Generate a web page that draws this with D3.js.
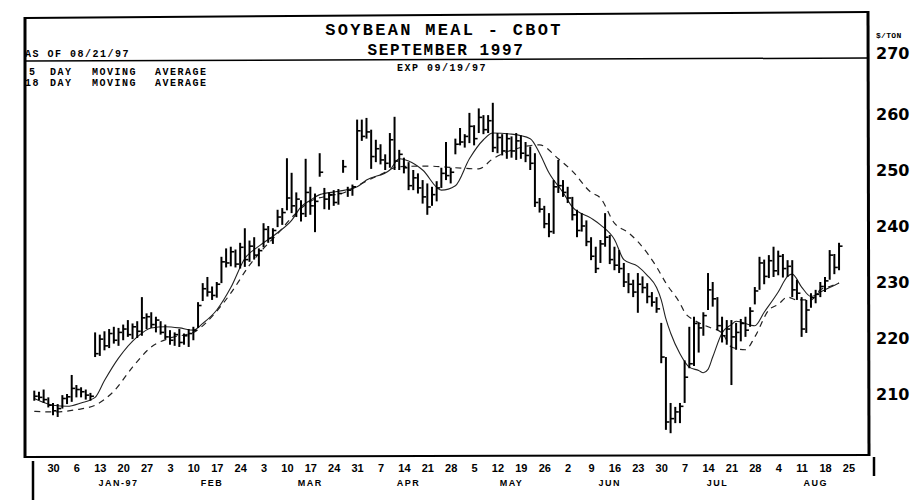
<!DOCTYPE html>
<html>
<head>
<meta charset="utf-8">
<script src="https://cdn.jsdelivr.net/npm/d3@7"></script>
<style>
  body { margin: 0; background: #fff; }
  svg { display: block; }
  .small { font-family: "Liberation Mono", monospace; font-weight: bold; font-size: 10px; letter-spacing: 1.5px; }
</style>
</head>
<body>
<svg width="914" height="503"></svg>
<script>
// daily high / low / close, Dec 24 1996 .. Aug 21 1997 (one row per week)
var firstDay = -4;
var highs = [
  210.6, 210.4, 210.8, 209.4,
  208.4, 208.2, 209.8, 210.0, 213.4,
  211.6, 211.2, 210.8, 210.2, 221.0,
  220.6, 221.2, 221.6, 222.0, 221.8,
  222.4, 223.2, 222.6, 223.0, 227.3,
  224.4, 224.6, 223.8, 223.0, 222.4,
  221.4, 221.0, 221.6, 220.8, 221.6,
  222.0, 226.4, 229.8, 230.9, 229.2,
  230.0, 234.5, 236.0, 236.3, 235.8,
  237.0, 239.6, 237.4, 238.0, 236.0,
  240.5, 240.0, 239.6, 242.9, 243.2,
  252.1, 249.5, 246.0, 244.6, 252.0,
  247.0, 245.8, 253.0, 246.8, 246.0,
  246.4, 246.6, 251.8, 247.0, 247.4,
  259.0, 259.0, 259.3, 257.2, 255.4,
  254.6, 252.8, 256.6, 259.5, 253.6,
  252.2, 251.4, 250.0, 249.4, 248.2,
  247.6, 247.0, 248.0, 250.4, 255.0,
  250.4, 255.6, 257.5, 256.4, 260.2,
  258.0, 261.0, 259.8, 259.8, 262.0,
  256.6, 256.4, 256.6, 256.0, 256.6,
  256.2, 255.0, 254.2, 253.0, 245.0,
  243.6, 242.3, 248.2, 251.8, 248.2,
  247.0, 245.2, 242.9, 242.3, 241.0,
  238.0, 236.3, 237.5, 242.3, 238.4,
  236.3, 235.7, 233.4, 231.6, 230.4,
  231.6, 231.0, 229.8, 228.2, 227.3,
  222.7, 216.6, 208.4, 207.7, 208.4,
  216.0, 222.0, 223.8, 222.7, 224.6,
  231.6, 230.0, 227.3, 223.8, 223.2,
  223.2, 222.7, 223.4, 223.8, 225.5,
  229.1, 234.5, 234.0, 234.8, 236.3,
  235.6, 235.0, 233.9, 233.9, 230.4,
  227.3, 226.8, 228.0, 228.6, 230.0,
  230.9, 235.7, 235.0, 237.0
];
var lows = [
  208.8, 208.9, 208.4, 207.6,
  206.2, 205.9, 207.4, 208.2, 208.6,
  209.4, 209.4, 209.0, 208.8, 216.6,
  216.8, 217.8, 218.2, 219.0, 218.6,
  219.6, 220.2, 219.8, 220.0, 220.4,
  221.6, 221.8, 221.0, 220.6, 219.8,
  218.8, 218.6, 218.4, 218.8, 218.4,
  219.6, 221.8, 226.6, 227.4, 226.8,
  227.2, 229.8, 232.6, 232.8, 232.6,
  232.4, 232.7, 233.6, 234.0, 232.8,
  236.2, 237.0, 236.8, 239.8, 240.2,
  242.8, 242.3, 241.6, 240.8, 241.6,
  242.0, 238.9, 248.8, 243.0, 242.9,
  243.6, 243.8, 249.5, 245.2, 245.4,
  248.2, 255.2, 255.6, 250.2, 251.4,
  251.0, 250.0, 250.4, 250.0, 250.0,
  249.4, 246.4, 246.4, 245.8, 244.0,
  242.0, 243.6, 244.4, 246.8, 248.2,
  247.6, 252.8, 254.4, 254.0, 254.8,
  254.4, 256.6, 256.4, 256.6, 253.2,
  253.0, 252.6, 252.0, 252.2, 251.8,
  252.0, 251.4, 250.0, 243.4, 242.4,
  239.6, 238.0, 238.6, 245.9, 245.2,
  244.1, 241.0, 238.0, 239.0, 236.4,
  233.9, 231.6, 233.4, 236.3, 233.2,
  232.1, 231.6, 229.1, 228.0, 227.3,
  224.5, 228.0, 226.2, 225.6, 224.5,
  215.5, 203.6, 203.0, 204.8, 204.8,
  208.4, 214.6, 215.0, 217.4, 220.4,
  225.0, 225.6, 221.4, 219.2, 218.8,
  211.6, 217.9, 219.4, 220.2, 222.0,
  226.0, 228.6, 229.6, 230.7, 230.9,
  231.2, 230.8, 230.9, 227.3, 226.8,
  220.2, 220.9, 225.4, 226.2, 227.3,
  228.2, 230.4, 231.4, 232.1
];
var closes = [
  209.6, 209.4, 209.0, 208.0,
  207.0, 207.4, 209.2, 209.5, 211.0,
  210.8, 210.4, 209.8, 209.6, 217.2,
  219.8, 218.6, 220.8, 219.6, 221.0,
  221.6, 220.6, 222.0, 221.2, 223.6,
  223.8, 222.4, 223.2, 221.0, 220.2,
  219.6, 220.6, 219.2, 220.4, 220.8,
  221.4, 225.8, 228.8, 228.2, 227.6,
  229.6, 233.6, 233.4, 235.4, 233.2,
  236.2, 234.0, 236.4, 234.8, 235.6,
  239.4, 237.8, 239.2, 241.6, 242.4,
  245.0, 243.6, 244.8, 242.2, 246.0,
  243.6, 244.4, 249.6, 244.8, 245.6,
  244.2, 245.8, 250.6, 246.4, 247.0,
  257.0, 256.0, 256.8, 252.4, 253.8,
  251.8, 251.2, 255.4, 251.6, 252.8,
  250.4, 247.2, 248.6, 246.8, 245.2,
  243.4, 245.6, 246.8, 249.4, 249.0,
  249.6, 254.6, 255.0, 256.0, 257.8,
  255.6, 259.4, 257.2, 258.8, 254.0,
  255.8, 253.4, 255.6, 253.4, 255.2,
  253.0, 252.6, 251.2, 244.2, 243.0,
  240.4, 239.0, 247.0, 247.2, 246.0,
  245.0, 242.0, 239.2, 240.0, 237.2,
  234.6, 232.4, 236.8, 238.0, 234.0,
  233.0, 232.4, 230.0, 229.6, 228.2,
  229.6, 229.0, 227.4, 226.4, 225.2,
  216.6, 205.0, 205.6, 206.8, 207.8,
  213.0, 215.4, 222.6, 221.8, 224.0,
  228.6, 227.0, 222.2, 220.4, 221.6,
  220.2, 221.0, 222.6, 221.4, 224.8,
  228.4, 233.4, 231.0, 233.8, 232.0,
  234.6, 232.4, 232.8, 228.6, 228.0,
  221.6, 225.0, 227.2, 227.8, 229.2,
  230.2, 234.8, 232.6, 236.4
];

// moving average lines as drawn (trading-day index, value)
var fastDays = [-4, 0, 3, 6, 9, 11, 14, 18, 21, 24, 27, 30, 32, 35, 38, 41, 44, 48, 51, 53, 55, 57, 61, 65, 67, 72, 74, 76, 79, 83, 86, 89, 92, 94, 98, 102, 104, 106, 109, 111, 115, 117, 120, 122, 125, 127, 129, 130, 131, 132, 134, 136, 138, 139, 140, 141, 143, 145, 146, 150, 152, 155, 157, 158, 160, 162, 164, 166, 168];
var fastValues = [209.2, 208.0, 207.8, 208.4, 209.4, 212.4, 216.4, 220.2, 221.8, 222.0, 221.8, 221.4, 222.6, 225.0, 229.0, 234.2, 236.4, 238.8, 241.0, 243.4, 244.6, 245.6, 246.2, 247.0, 248.2, 250.0, 252.0, 251.6, 250.0, 246.4, 247.2, 252.0, 255.4, 256.6, 256.4, 255.6, 253.0, 249.5, 246.0, 243.4, 241.4, 240.2, 237.6, 234.0, 232.8, 231.2, 229.0, 226.8, 223.4, 220.9, 217.2, 214.8, 214.2, 213.8, 214.4, 216.6, 220.9, 222.4, 223.0, 222.2, 224.6, 228.2, 231.0, 231.4, 229.1, 227.4, 228.2, 229.0, 229.8];
var slowDays = [-4, 0, 5, 9, 13, 17, 21, 25, 30, 35, 38, 42, 45, 48, 51, 55, 59, 62, 66, 70, 74, 80, 86, 91, 94, 99, 104, 108, 111, 115, 117, 120, 123, 125, 129, 131, 134, 135, 137, 140, 143, 145, 148, 150, 153, 155, 157, 159, 162, 164, 166, 168];
var slowValues = [206.9, 206.8, 207.2, 208.0, 210.5, 214.8, 218.4, 220.0, 221.0, 224.8, 228.0, 233.0, 236.0, 238.6, 241.5, 244.4, 245.4, 245.9, 247.6, 249.2, 250.6, 250.7, 250.4, 250.2, 252.0, 253.8, 254.5, 252.0, 249.8, 246.0, 245.0, 240.5, 238.8, 237.2, 232.7, 229.8, 226.2, 224.6, 223.2, 222.0, 220.9, 218.4, 217.9, 220.2, 225.0, 226.0, 227.3, 226.8, 226.8, 228.6, 229.2, 229.8];

// axis labels (one per Monday, Dec 30 .. Aug 25)
var weekLabels = ['30', '6', '13', '20', '27', '3', '10', '17', '24', '3', '10', '17', '24', '31', '7', '14', '21', '28', '5', '12', '19', '26', '2', '9', '16', '23', '30', '7', '14', '21', '28', '4', '11', '18', '25'];
var monthLabels = ['JAN-97', 'FEB', 'MAR', 'APR', 'MAY', 'JUN', 'JUL', 'AUG'];
var monthAt = [14, 34, 55, 76, 98, 119, 142, 163];
var priceTicks = [210, 220, 230, 240, 250, 260, 270];

var svg = d3.select('svg');

var x = d3.scaleLinear().domain([0, 165]).range([53, 825]);
var y = d3.scaleLinear().domain([200, 270]).range([450, 58]);

var bars = highs.map(function(h, k) {
    return { day: firstDay + k, high: h, low: lows[k], close: closes[k] };
});

// frame
svg.append('line').attr('x1', 25).attr('y1', 18).attr('x2', 868).attr('y2', 12)
    .style('stroke', 'black').style('stroke-width', 2);
svg.append('line').attr('x1', 25).attr('y1', 61).attr('x2', 868).attr('y2', 58)
    .style('stroke', 'black').style('stroke-width', 1.5);
svg.append('line').attr('x1', 25).attr('y1', 17).attr('x2', 25).attr('y2', 458)
    .style('stroke', 'black').style('stroke-width', 3);
svg.append('line').attr('x1', 868).attr('y1', 11).attr('x2', 869).attr('y2', 456)
    .style('stroke', 'black').style('stroke-width', 3);
svg.append('line').attr('x1', 24).attr('y1', 457).attr('x2', 869).attr('y2', 455)
    .style('stroke', 'black').style('stroke-width', 2);
svg.append('line').attr('x1', 33).attr('y1', 461).attr('x2', 33).attr('y2', 500)
    .style('stroke', 'black').style('stroke-width', 2.5);
svg.append('line').attr('x1', 874).attr('y1', 457).attr('x2', 874).attr('y2', 476)
    .style('stroke', 'black').style('stroke-width', 2.5);

// titles
svg.append('text').attr('x', 444).attr('y', 35)
    .attr('text-anchor', 'middle')
    .style('font-family', '"Liberation Mono", monospace')
    .style('font-weight', 'bold').style('font-size', '17px').style('letter-spacing', '2.3px')
    .text('SOYBEAN MEAL - CBOT');
svg.append('text').attr('x', 446).attr('y', 55)
    .attr('text-anchor', 'middle')
    .style('font-family', '"Liberation Mono", monospace')
    .style('font-weight', 'bold').style('font-size', '16px').style('letter-spacing', '1.6px')
    .text('SEPTEMBER 1997');
svg.append('text').attr('class', 'small').attr('x', 25).attr('y', 57).text('AS OF 08/21/97');
svg.append('text').attr('class', 'small').attr('x', 397).attr('y', 71).text('EXP 09/19/97');
svg.append('text').attr('class', 'small').attr('x', 876).attr('y', 38)
    .style('font-size', '8px').style('letter-spacing', '0.3px').text('$/TON');

var legendRows = [['5', 'DAY', 'MOVING', 'AVERAGE'], ['18', 'DAY', 'MOVING', 'AVERAGE']];
var legendX = [29, 50, 92, 155];
legendRows.forEach(function(row, r) {
    row.forEach(function(word, c) {
        svg.append('text').attr('class', 'small')
            .attr('x', legendX[c] - (r == 1 && c == 0 ? 4 : 0))
            .attr('y', 75 + r * 11)
            .text(word);
    });
});

// price axis on the right
var yAxis = svg.append('g')
    .attr('transform', 'translate(869,0)')
    .call(d3.axisRight(y).tickValues(priceTicks).tickSize(0).tickPadding(7).tickFormat(d3.format('d')));
yAxis.select('.domain').remove();
yAxis.selectAll('text')
    .style('font-family', '"DejaVu Sans", sans-serif')
    .style('font-weight', 'bold').style('font-size', '16px')
    .attr('dy', function(d) { return d == 270 ? '0em' : '0.32em'; });

// date axis
var xAxis = svg.append('g')
    .attr('transform', 'translate(0,462)')
    .call(d3.axisBottom(x).tickValues(d3.range(0, 171, 5)).tickSize(0).tickPadding(2)
        .tickFormat(function(d) { return weekLabels[d / 5]; }));
xAxis.select('.domain').remove();
xAxis.selectAll('text')
    .style('font-family', '"Liberation Sans", sans-serif')
    .style('font-weight', 'bold').style('font-size', '11px');

svg.selectAll('.month')
    .data(monthLabels)
    .enter().append('text')
    .attr('class', 'month')
    .attr('x', function(d, k) { return x(monthAt[k]); })
    .attr('y', 486)
    .attr('text-anchor', 'middle')
    .style('font-family', '"Liberation Sans", sans-serif')
    .style('font-weight', 'bold').style('font-size', '9px').style('letter-spacing', '1.5px')
    .text(function(d) { return d; });

// moving averages
var fastLine = d3.line()
    .x(function(d, k) { return x(fastDays[k]); })
    .y(function(d) { return y(d); })
    .curve(d3.curveMonotoneX);
svg.append('path')
    .datum(fastValues)
    .attr('d', fastLine)
    .style('fill', 'none')
    .style('stroke', '#222')
    .style('stroke-width', 1.1);

var slowLine = d3.line()
    .x(function(d, k) { return x(slowDays[k]); })
    .y(function(d) { return y(d); })
    .curve(d3.curveMonotoneX);
svg.append('path')
    .datum(slowValues)
    .attr('d', slowLine)
    .style('fill', 'none')
    .style('stroke', '#222')
    .style('stroke-width', 1.2)
    .style('stroke-dasharray', '6,5');

// high-low-close bars
var bar = svg.selectAll('.bar')
    .data(bars)
    .enter().append('g')
    .attr('class', 'bar');

bar.append('line')
    .attr('x1', function(d) { return x(d.day); })
    .attr('x2', function(d) { return x(d.day); })
    .attr('y1', function(d) { return y(d.high); })
    .attr('y2', function(d) { return y(d.low); })
    .style('stroke', 'black')
    .style('stroke-width', 2);

bar.append('line')
    .attr('x1', function(d) { return x(d.day); })
    .attr('x2', function(d) { return x(d.day) + 3.5; })
    .attr('y1', function(d) { return y(d.close); })
    .attr('y2', function(d) { return y(d.close); })
    .style('stroke', 'black')
    .style('stroke-width', 1.6);
</script>
</body>
</html>
